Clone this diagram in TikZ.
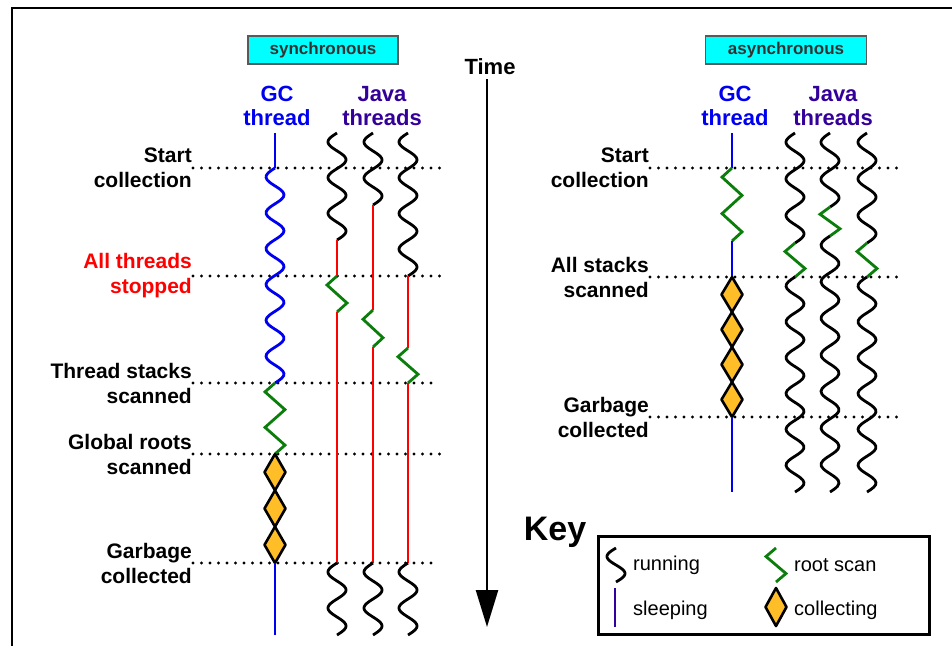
\documentclass[tikz,border=0pt]{standalone}
\usepackage{fontspec}
\setmainfont{Liberation Sans}
\usepackage{tikz}
\usetikzlibrary{arrows.meta}
\definecolor{gcblue}{RGB}{0,0,240}
\definecolor{javaviolet}{RGB}{51,0,153}
\definecolor{scangreen}{RGB}{10,125,10}
\definecolor{collectorange}{RGB}{255,190,40}
\definecolor{modecyan}{RGB}{0,255,255}
% thread pieces: x, from y, to y
\newcommand{\running}[4][black]{%
	\pgfmathsetmacro{\wavef}{180*max(1,round((#4-#3)/18))/(#4-#3)}%
	\draw[#1,line width=2.8pt,line join=round] plot[domain=#3:#4,samples=90,smooth,variable=\t] ({#2-9*sin(\wavef*(\t-#3))},\t);}
\newcommand{\rootscan}[4]{%
	\pgfmathsetmacro{\scanh}{(#3-#2)/#4}%
	\draw[scangreen,line width=2.8pt] (#1,#2) \foreach \i in {1,...,#4}{ -- ({#1+10-20*mod(\i,2)},{#2+(\i-0.5)*\scanh})} -- (#1,#3);}
\newcommand{\collecting}[4]{%
	\pgfmathsetmacro{\colh}{(#3-#2)/#4}%
	\foreach \k in {1,...,#4}{%
		\draw[fill=collectorange,line width=2.6pt,line join=round] (#1,{#2+(\k-1)*\colh}) -- ++(10.5,{\colh/2}) -- ++(-10.5,{\colh/2}) -- ++(-10.5,{-\colh/2}) -- cycle;}}
\newcommand{\sleeping}[3]{\draw[gcblue,line width=2.8pt] (#1,#2) -- (#1,#3);}
\newcommand{\stopped}[3]{\draw[red,line width=2.8pt] (#1,#2) -- (#1,#3);}

\begin{document}
\begin{tikzpicture}[x=1pt,y=-1pt,
		lbl/.style={anchor=east,align=right,inner sep=1pt,font=\fontsize{21}{25}\selectfont\bfseries},
		head/.style={align=center,inner sep=0pt,font=\fontsize{22}{24}\selectfont\bfseries},
		modebox/.style={draw=black!65,line width=1.5pt,fill=modecyan,minimum width=150,minimum height=28,font=\fontsize{17}{20}\selectfont\bfseries,text=black!80},
		event/.style={line width=3.2pt,dash pattern=on 0pt off 8.5pt,line cap=round},
		keytext/.style={anchor=west,inner sep=0pt,font=\fontsize{20}{24}\selectfont}]
		\useasboundingbox (0,0) rectangle (952,646);
		\draw[line width=1.5pt] (952,8) -- (12,8) -- (12,646);

		% synchronous
		\node[modebox] (sync) at (323,50) {synchronous};
		\node[head,text=gcblue] (gcS) at (277,106) {GC\\thread};
		\node[head,text=javaviolet] (javaS) at (382,106) {Java\\threads};
		\node[lbl] (startS) at (193,168) {Start\\collection};
		\node[lbl,text=red] (stopS) at (193,276) {All threads\\stopped};
		\node[lbl] (stacksS) at (193,383) {Thread stacks\\scanned};
		\node[lbl] (rootsS) at (193,454) {Global roots\\scanned};
		\node[lbl] (garbS) at (193,563) {Garbage\\collected};
		\draw[event] (startS.east) -- ++(254,0);
		\draw[event] (stopS.east) -- ++(254,0);
		\draw[event] (stacksS.east) -- ++(244,0);
		\draw[event] (rootsS.east) -- ++(254,0);
		\draw[event] (garbS.east) -- ++(244,0);

		\sleeping{275}{133}{168} \running[gcblue]{275}{168}{383}
		\rootscan{275}{383}{454}{4} \collecting{275}{454}{563}{3} \sleeping{275}{563}{635}

		\running{337}{133}{240} \stopped{337}{240}{276} \rootscan{337}{276}{312}{2}
		\stopped{337}{312}{563} \running{337}{563}{635}
		\running{373}{133}{205} \stopped{373}{205}{310} \rootscan{373}{310}{347}{2}
		\stopped{373}{347}{563} \running{373}{563}{635}
		\running{408}{133}{276} \stopped{408}{276}{348} \rootscan{408}{348}{383}{2}
		\stopped{408}{383}{563} \running{408}{563}{635}

		% time axis
		\node[head] (time) at (490,67) {Time};
		\coordinate (t0) at (487,79);
		\coordinate (t1) at (487,627);
		\draw[line width=2.5pt,-{Triangle[width=22pt,length=37pt]}] (t0) -- (t1);

		% asynchronous
		\node[modebox,minimum width=161] (async) at (786,50) {asynchronous};
		\node[head,text=gcblue] (gcA) at (735,106) {GC\\thread};
		\node[head,text=javaviolet] (javaA) at (833,106) {Java\\threads};
		\node[lbl] (startA) at (650,168) {Start\\collection};
		\node[lbl] (stacksA) at (650,277) {All stacks\\scanned};
		\node[lbl] (garbA) at (650,417) {Garbage\\collected};
		\draw[event] (startA.east) -- ++(253,0);
		\draw[event] (stacksA.east) -- ++(247,0);
		\draw[event] (garbA.east) -- ++(247,0);

		\sleeping{732}{133}{168} \rootscan{732}{168}{241}{4} \sleeping{732}{241}{277}
		\collecting{732}{277}{417}{4} \sleeping{732}{417}{492}

		\running{795}{133}{243} \rootscan{795}{243}{277}{2} \running{795}{277}{492}
		\running{830}{133}{207} \rootscan{830}{207}{236}{2} \running{830}{236}{492}
		\running{867}{133}{243} \rootscan{867}{243}{277}{2} \running{867}{277}{492}

		% key
		\node[font=\fontsize{34}{38}\selectfont\bfseries] (key) at (555,532) {Key};
		\node[draw,line width=3pt,minimum width=331,minimum height=98,anchor=north west] (keybox) at (597,535) {};
		\running{616}{548}{582}
		\node[keytext] (krun) at (633,565) {running};
		\rootscan{776}{548}{582}{2}
		\node[keytext] (kscan) at (794,565) {root scan};
		\draw[javaviolet,line width=2.8pt] (615,588) -- (615,627);
		\node[keytext] (ksleep) at (633,610) {sleeping};
		\collecting{776}{588}{626}{1}
		\node[keytext] (kcoll) at (794,610) {collecting};
	\end{tikzpicture}
\end{document}
